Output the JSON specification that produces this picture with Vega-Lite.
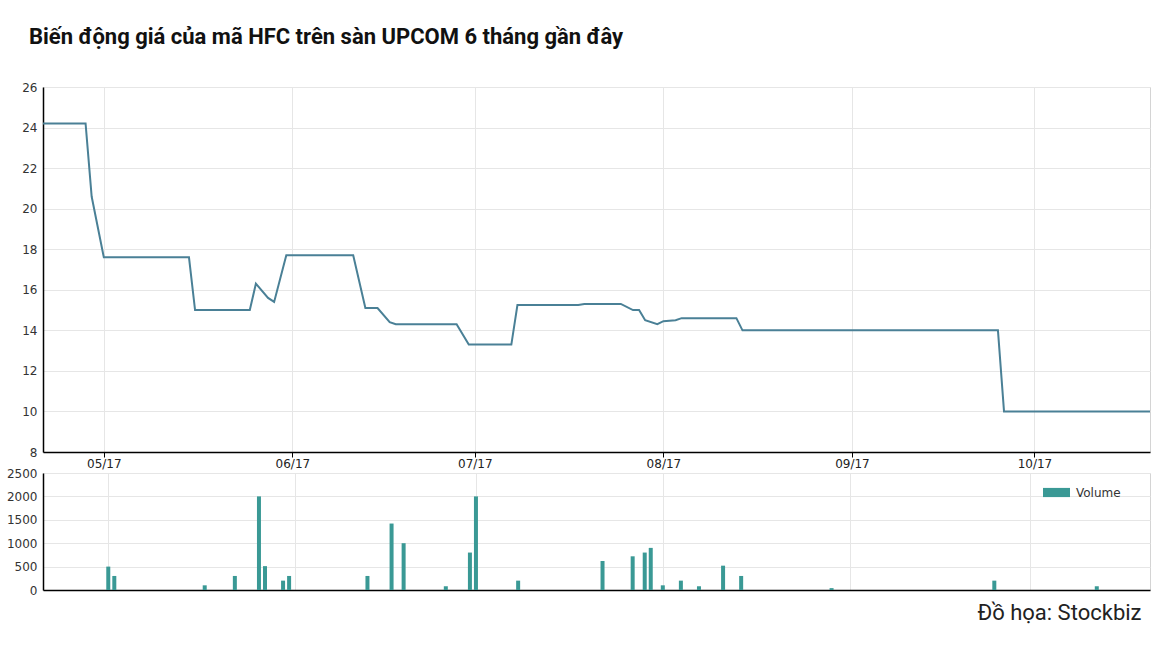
{
  "$schema": "https://vega.github.io/schema/vega-lite/v6.json",
  "padding": {"left": 5, "top": 25, "right": 14, "bottom": 10},
  "background": "white",
  "title": {
    "text": "Biến động giá của mã HFC trên sàn UPCOM 6 tháng gần đây",
    "anchor": "start",
    "frame": "group",
    "font": "Roboto",
    "fontSize": 22,
    "fontWeight": "bold",
    "color": "#111111",
    "dx": -14,
    "offset": 32
  },
  "datasets": {
    "price": [
      {"date": "2017-04-21", "price": 24.2},
      {"date": "2017-04-28", "price": 24.2},
      {"date": "2017-04-29", "price": 20.6},
      {"date": "2017-05-01", "price": 17.6},
      {"date": "2017-05-15", "price": 17.6},
      {"date": "2017-05-16", "price": 15.0},
      {"date": "2017-05-25", "price": 15.0},
      {"date": "2017-05-26", "price": 16.3},
      {"date": "2017-05-28", "price": 15.6},
      {"date": "2017-05-29", "price": 15.4},
      {"date": "2017-05-31", "price": 17.7},
      {"date": "2017-06-11", "price": 17.7},
      {"date": "2017-06-13", "price": 15.1},
      {"date": "2017-06-15", "price": 15.1},
      {"date": "2017-06-17", "price": 14.4},
      {"date": "2017-06-18", "price": 14.3},
      {"date": "2017-06-28", "price": 14.3},
      {"date": "2017-06-30", "price": 13.3},
      {"date": "2017-07-07", "price": 13.3},
      {"date": "2017-07-08", "price": 15.25},
      {"date": "2017-07-18", "price": 15.25},
      {"date": "2017-07-19", "price": 15.3},
      {"date": "2017-07-25", "price": 15.3},
      {"date": "2017-07-27", "price": 15.0},
      {"date": "2017-07-28", "price": 15.0},
      {"date": "2017-07-29", "price": 14.5},
      {"date": "2017-07-31", "price": 14.3},
      {"date": "2017-08-01", "price": 14.45},
      {"date": "2017-08-03", "price": 14.5},
      {"date": "2017-08-04", "price": 14.6},
      {"date": "2017-08-13", "price": 14.6},
      {"date": "2017-08-14", "price": 14.0},
      {"date": "2017-09-25", "price": 14.0},
      {"date": "2017-09-26", "price": 10.0},
      {"date": "2017-10-20", "price": 10.0}
    ],
    "volume": [
      {"date": "2017-05-01", "volume": 500},
      {"date": "2017-05-02", "volume": 300},
      {"date": "2017-05-17", "volume": 100},
      {"date": "2017-05-22", "volume": 300},
      {"date": "2017-05-26", "volume": 2000},
      {"date": "2017-05-27", "volume": 510},
      {"date": "2017-05-30", "volume": 200},
      {"date": "2017-05-31", "volume": 300},
      {"date": "2017-06-13", "volume": 300},
      {"date": "2017-06-17", "volume": 1420},
      {"date": "2017-06-19", "volume": 1000},
      {"date": "2017-06-26", "volume": 80},
      {"date": "2017-06-30", "volume": 800},
      {"date": "2017-07-01", "volume": 2000},
      {"date": "2017-07-08", "volume": 200},
      {"date": "2017-07-22", "volume": 620},
      {"date": "2017-07-27", "volume": 720},
      {"date": "2017-07-29", "volume": 800},
      {"date": "2017-07-30", "volume": 900},
      {"date": "2017-08-01", "volume": 100},
      {"date": "2017-08-04", "volume": 200},
      {"date": "2017-08-07", "volume": 80},
      {"date": "2017-08-11", "volume": 520},
      {"date": "2017-08-14", "volume": 300},
      {"date": "2017-08-29", "volume": 40},
      {"date": "2017-09-25", "volume": 200},
      {"date": "2017-10-12", "volume": 80}
    ]
  },
  "vconcat": [
    {
      "width": 1107,
      "height": 365,
      "data": {"name": "price"},
      "mark": {"type": "line", "color": "#4a8096", "strokeWidth": 2, "interpolate": "linear"},
      "encoding": {
        "x": {
          "field": "date",
          "type": "temporal",
          "scale": {
            "type": "utc",
            "domain": [
              {"year": 2017, "month": 4, "date": 21, "utc": true},
              {"year": 2017, "month": 10, "date": 20, "utc": true}
            ]
          },
          "axis": {
            "title": null,
            "format": "%m/%y",
            "values": [
              {"year": 2017, "month": 5, "date": 1, "utc": true},
              {"year": 2017, "month": 6, "date": 1, "utc": true},
              {"year": 2017, "month": 7, "date": 1, "utc": true},
              {"year": 2017, "month": 8, "date": 1, "utc": true},
              {"year": 2017, "month": 9, "date": 1, "utc": true},
              {"year": 2017, "month": 10, "date": 1, "utc": true}
            ],
            "ticks": true,
            "tickSize": 5,
            "tickColor": "#000000",
            "labelPadding": 1,
            "labelColor": "#222222",
            "domainColor": "#000000",
            "domainWidth": 1.5
          }
        },
        "y": {
          "field": "price",
          "type": "quantitative",
          "scale": {"domain": [8, 26], "nice": false, "zero": false},
          "axis": {
            "title": null,
            "values": [8, 10, 12, 14, 16, 18, 20, 22, 24, 26],
            "ticks": false,
            "labelPadding": 6,
            "domainColor": "#000000",
            "domainWidth": 1.5
          }
        }
      }
    },
    {
      "width": 1107,
      "height": 117,
      "data": {"name": "volume"},
      "mark": {"type": "bar", "width": 4},
      "encoding": {
        "x": {
          "field": "date",
          "type": "temporal",
          "scale": {
            "type": "utc",
            "domain": [
              {"year": 2017, "month": 4, "date": 21, "utc": true},
              {"year": 2017, "month": 10, "date": 20, "utc": true}
            ]
          },
          "axis": {
            "title": "Đồ họa: Stockbiz",
            "titleFont": "Roboto",
            "titleFontSize": 22,
            "titleFontWeight": "normal",
            "titleColor": "#222222",
            "titleAnchor": "end",
            "titleAlign": "right",
            "titleX": 1098,
            "titlePadding": 12,
            "labels": false,
            "ticks": false,
            "values": [
              {"year": 2017, "month": 5, "date": 1, "utc": true},
              {"year": 2017, "month": 6, "date": 1, "utc": true},
              {"year": 2017, "month": 7, "date": 1, "utc": true},
              {"year": 2017, "month": 8, "date": 1, "utc": true},
              {"year": 2017, "month": 9, "date": 1, "utc": true},
              {"year": 2017, "month": 10, "date": 1, "utc": true}
            ],
            "domainColor": "#000000",
            "domainWidth": 1.5
          }
        },
        "y": {
          "field": "volume",
          "type": "quantitative",
          "scale": {"domain": [0, 2500], "nice": false},
          "axis": {
            "title": null,
            "values": [0, 500, 1000, 1500, 2000, 2500],
            "format": "d",
            "ticks": false,
            "labelPadding": 6,
            "domainColor": "#000000",
            "domainWidth": 1.5
          }
        },
        "color": {
          "datum": "Volume",
          "type": "nominal",
          "scale": {"range": ["#3a9995"]},
          "legend": {
            "title": null,
            "orient": "none",
            "legendX": 1000,
            "legendY": 392,
            "symbolType": "M-1,-0.34H1V0.34H-1Z",
            "symbolSize": 729,
            "symbolStrokeWidth": 0,
            "labelFont": "DejaVu Sans",
            "labelFontSize": 12,
            "labelColor": "#333333",
            "labelOffset": 6,
            "padding": 0
          }
        }
      }
    }
  ],
  "spacing": 21,
  "bounds": "flush",
  "config": {
    "font": "DejaVu Sans",
    "view": {"stroke": "#d4d4d4", "strokeWidth": 1},
    "axis": {
      "labelFont": "DejaVu Sans",
      "labelFontSize": 12,
      "labelColor": "#333333",
      "grid": true,
      "gridColor": "#e6e6e6",
      "gridWidth": 1
    }
  }
}
